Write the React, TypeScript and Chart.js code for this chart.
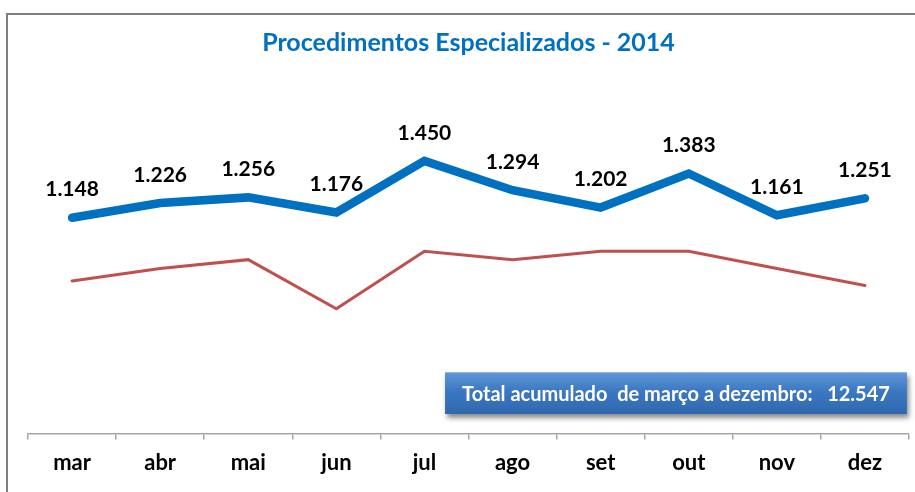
import React, { useEffect, useRef } from "react";
import { Chart, registerables } from "chart.js";

Chart.register(...registerables);

const categories = ["mar", "abr", "mai", "jun", "jul", "ago", "set", "out", "nov", "dez"];
const valores2014 = [1148, 1226, 1256, 1176, 1450, 1294, 1202, 1383, 1161, 1251];
const referencia = [812, 878, 925, 664, 970, 925, 970, 970, 878, 788];
const yTicks = [0, 1600];
const titulo = "Procedimentos Especializados - 2014";

const fmt = (v: number) => {
  const s = Math.round(v).toString();
  return s.replace(/\B(?=(\d{3})+(?!\d))/g, ".");
};

const total = valores2014.reduce((a, b) => a + b, 0);

const FONT = "Lato, 'Open Sans', sans-serif";

const labelPlugin = {
  id: "valueLabels",
  afterDatasetsDraw(chart: any) {
    const meta = chart.getDatasetMeta(0);
    const ctx = chart.ctx;
    ctx.save();
    ctx.font = `bold 21px ${FONT}`;
    ctx.fillStyle = "#000000";
    ctx.textAlign = "center";
    ctx.textBaseline = "middle";
    meta.data.forEach((pt: any, i: number) => {
      ctx.fillText(fmt(valores2014[i]), pt.x, pt.y - 28);
    });
    ctx.restore();
  },
};

export default function App() {
  const ref = useRef<HTMLCanvasElement | null>(null);

  useEffect(() => {
    if (!ref.current) return;
    const chart = new Chart(ref.current, {
      type: "line",
      data: {
        labels: categories,
        datasets: [
          {
            label: "2014",
            data: valores2014,
            borderColor: "#0070C0",
            borderWidth: 8.5,
            borderCapStyle: "round",
            borderJoinStyle: "miter",
            pointRadius: 0,
            tension: 0,
          },
          {
            label: "Referência",
            data: referencia,
            borderColor: "#C0504D",
            borderWidth: 3,
            borderCapStyle: "round",
            pointRadius: 0,
            tension: 0,
          },
        ],
      },
      options: {
        responsive: false,
        animation: false,
        layout: { padding: { left: 28, right: 6, top: 0, bottom: 6 } },
        plugins: {
          legend: { display: false },
          tooltip: { enabled: false },
          title: {
            display: true,
            text: titulo,
            color: "#0070C0",
            font: { family: FONT, size: 25, weight: "bold", lineHeight: 1.2 },
            padding: { top: 28, bottom: 74.7 },
          },
        },
        scales: {
          x: {
            offset: true,
            grid: {
              offset: true,
              drawOnChartArea: false,
              drawTicks: true,
              tickLength: 6,
              color: "#A6A6A6",
              lineWidth: 1.5,
            },
            border: { display: true, color: "#A6A6A6", width: 1.5 },
            ticks: {
              color: "#000000",
              padding: 10,
              font: { family: FONT, size: 22, weight: "bold", lineHeight: 1.2 },
            },
          },
          y: {
            display: false,
            min: yTicks[0],
            max: yTicks[1],
          },
        },
      },
      plugins: [labelPlugin],
    });
    return () => chart.destroy();
  }, []);

  return (
    <div
      style={{
        position: "fixed",
        left: 0,
        top: 0,
        width: 915,
        height: 492,
        overflow: "hidden",
        background: "#ffffff",
      }}
    >
      <div
        style={{
          position: "absolute",
          left: 6,
          top: 13,
          width: 1200,
          height: 1200,
          border: "2px solid #7F7F7F",
        }}
      />
      <canvas ref={ref} width={915} height={492} style={{ position: "absolute", left: 0, top: 0 }} />
      <div
        style={{
          position: "absolute",
          left: 445,
          top: 372,
          width: 462,
          height: 42,
          background: "linear-gradient(180deg, #5F97D8 0%, #3C78C2 45%, #2F68AE 100%)",
          boxShadow: "2px 4px 5px rgba(0,0,0,0.45), inset 0 1px 1px rgba(255,255,255,0.35)",
          color: "#ffffff",
          fontFamily: FONT,
          fontWeight: "bold",
          fontSize: 20,
          lineHeight: "42px",
          textAlign: "center",
          whiteSpace: "pre",
        }}
      >
        {`Total acumulado  de março a dezembro:   ${fmt(total)}`}
      </div>
    </div>
  );
}
